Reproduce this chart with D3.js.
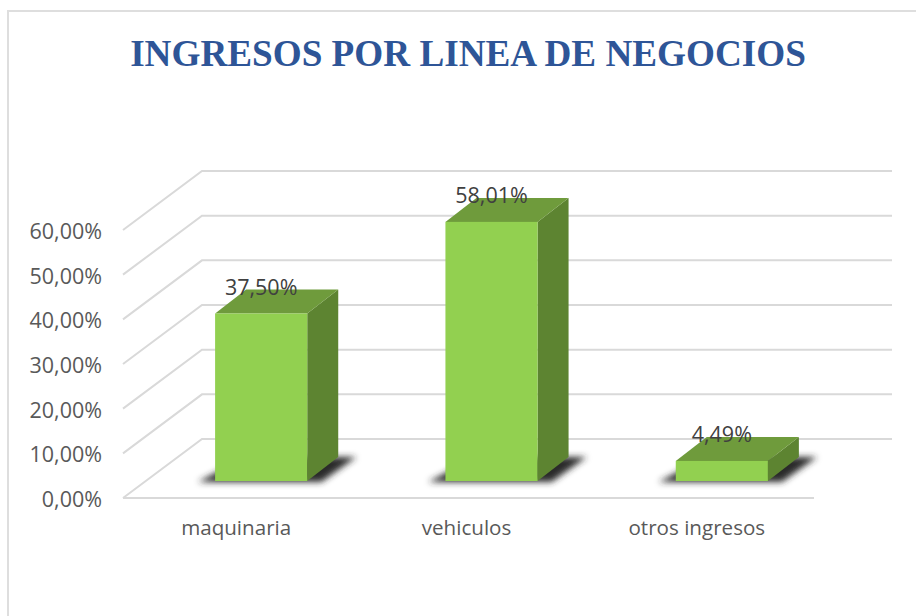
<!DOCTYPE html>
<meta charset="utf-8">
<style>
  html, body { margin: 0; background: #fff; }
  svg { display: block; }
</style>
<script src="https://d3js.org/d3.v7.min.js"></script>
<body>
<div id="my_dataviz"></div>
<script>

var titleText = "INGRESOS POR LINEA DE NEGOCIOS";
var categories = ["maquinaria", "vehiculos", "otros ingresos"];
var values = [37.50, 58.01, 4.49];
var valueLabels = ["37,50%", "58,01%", "4,49%"];
var yTicks = [0, 10, 20, 30, 40, 50, 60];

var width = 916, height = 616;

// front edge of the floor, and how far the back wall is pushed away from it
var floor = {left: 123, right: 814, y: 498};
var wall = {dx: 79, dy: -59};
// where the boxes sit on the floor, and their own depth
var barShift = {dx: 23, dy: -17};
var barDepth = {dx: 31, dy: -24};

var svg = d3.select("#my_dataviz")
  .append("svg")
    .attr("width", width)
    .attr("height", height);

// blur for the shadows under the boxes
svg.append("defs").append("filter")
    .attr("id", "soft")
    .attr("x", "-20%").attr("y", "-60%")
    .attr("width", "140%").attr("height", "220%")
  .append("feGaussianBlur")
    .attr("stdDeviation", 3);

// outer frame, only left and top can be seen
svg.append("path")
  .attr("d", "M8," + height + "V11H" + width)
  .attr("fill", "none")
  .attr("stroke", "#dedede")
  .attr("stroke-width", 2);

svg.append("text")
  .attr("x", 468)
  .attr("y", 66)
  .attr("text-anchor", "middle")
  .attr("font-family", "'Liberation Serif', serif")
  .attr("font-weight", "bold")
  .attr("font-size", "37.2px")
  .attr("fill", "#2e5597")
  .text(titleText);

var x = d3.scaleBand()
  .domain(categories)
  .range([floor.left, floor.right])
  .paddingInner(0.6)
  .paddingOuter(0.3);

var y = d3.scaleLinear()
  .domain([0, 60])
  .range([floor.y, 230]);

// gridlines: side wall + back wall
svg.append("g")
  .selectAll("path")
  .data(yTicks)
  .enter()
  .append("path")
    .attr("d", function(d) {
      return d3.line()([
        [floor.left, y(d)],
        [floor.left + wall.dx, y(d) + wall.dy],
        [floor.right + wall.dx - 1, y(d) + wall.dy]
      ]);
    })
    .attr("fill", "none")
    .attr("stroke", "#d9d9d9")
    .attr("stroke-width", 2);

// floor front line
svg.append("line")
  .attr("x1", floor.left)
  .attr("x2", floor.right)
  .attr("y1", floor.y)
  .attr("y2", floor.y)
  .attr("stroke", "#d9d9d9")
  .attr("stroke-width", 2);

// y axis, labels only
var yAxis = svg.append("g")
  .attr("transform", "translate(" + (floor.left + 7) + ",1.5)")
  .call(d3.axisLeft(y)
    .tickValues(yTicks)
    .tickSize(0)
    .tickPadding(28)
    .tickFormat(function(d) { return d3.format(".2f")(d).replace(".", ",") + "%"; }));
yAxis.select(".domain").remove();
yAxis.selectAll("text")
  .attr("font-family", "'Open Sans', sans-serif")
  .attr("font-size", "21.5px")
  .attr("fill", "#595959");

// x axis, labels only
var xAxis = svg.append("g")
  .attr("transform", "translate(-2," + floor.y + ")")
  .call(d3.axisBottom(x).tickSize(0).tickPadding(22));
xAxis.select(".domain").remove();
xAxis.selectAll("text")
  .attr("font-family", "'Open Sans', sans-serif")
  .attr("font-size", "20.6px")
  .attr("fill", "#595959");

var rows = categories.map(function(c, i) {
  return {name: c, value: values[i], label: valueLabels[i]};
});

function barLeft(d) { return x(d.name) + barShift.dx; }
function barRight(d) { return barLeft(d) + x.bandwidth(); }
function barBase() { return floor.y + barShift.dy; }
function barTop(d) { return y(d.value) + barShift.dy; }

function poly(pts) { return d3.line()(pts) + "Z"; }

var bars = svg.append("g")
  .selectAll("g")
  .data(rows)
  .enter()
  .append("g");

// shadow on the floor
bars.append("path")
  .attr("d", function(d) {
    return poly([
      [barLeft(d) - 17, barBase() + 1],
      [barRight(d) + 14, barBase() + 1],
      [barRight(d) + barDepth.dx + 18, barBase() + barDepth.dy],
      [barLeft(d) + barDepth.dx, barBase() + barDepth.dy]
    ]);
  })
  .attr("fill", "#2b2b2b")
  .attr("filter", "url(#soft)");

// side
bars.append("path")
  .attr("d", function(d) {
    return poly([
      [barRight(d), barBase()],
      [barRight(d) + barDepth.dx, barBase() + barDepth.dy],
      [barRight(d) + barDepth.dx, barTop(d) + barDepth.dy],
      [barRight(d), barTop(d)]
    ]);
  })
  .attr("fill", "#5d8431");

// top
bars.append("path")
  .attr("d", function(d) {
    return poly([
      [barLeft(d), barTop(d)],
      [barLeft(d) + barDepth.dx, barTop(d) + barDepth.dy],
      [barRight(d) + barDepth.dx, barTop(d) + barDepth.dy],
      [barRight(d), barTop(d)]
    ]);
  })
  .attr("fill", "#6f9b3c");

// front
bars.append("rect")
  .attr("x", barLeft)
  .attr("y", barTop)
  .attr("width", x.bandwidth())
  .attr("height", function(d) { return barBase() - barTop(d); })
  .attr("fill", "#92d050");

// value labels
bars.append("text")
  .attr("x", function(d) { return barLeft(d) + x.bandwidth() / 2; })
  .attr("y", function(d) { return barTop(d) - 18.5; })
  .attr("text-anchor", "middle")
  .attr("font-family", "'Open Sans', sans-serif")
  .attr("font-size", "21.5px")
  .attr("fill", "#404040")
  .text(function(d) { return d.label; });

</script>
</body>
